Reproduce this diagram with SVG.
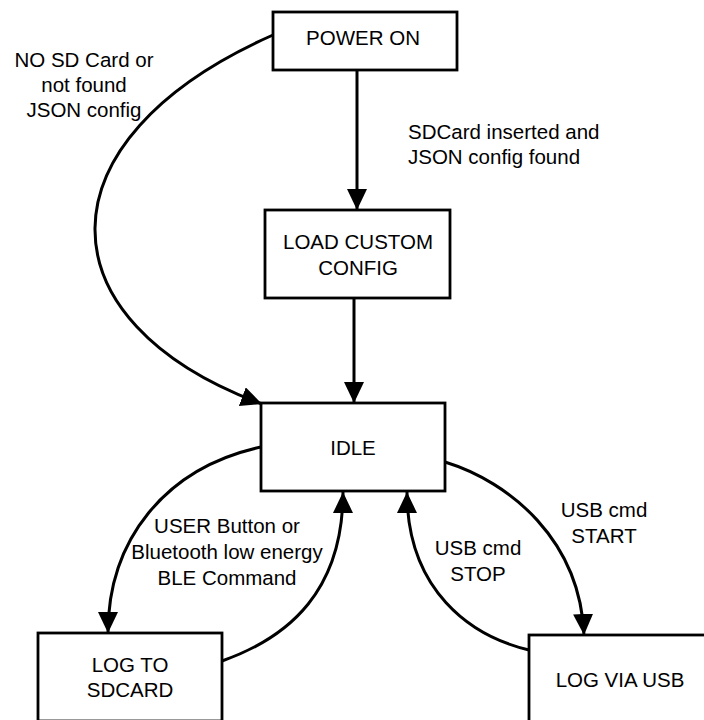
<svg xmlns="http://www.w3.org/2000/svg" width="704" height="720" viewBox="0 0 704 720">
<style>
.box{fill:#fff;stroke:#000;stroke-width:2.8}
.t{font-family:"Liberation Sans",Arial,sans-serif;font-size:20.5px;fill:#000;text-anchor:middle}
.ts{text-anchor:start}
.c{fill:none;stroke:#000;stroke-width:3}
</style>
<defs>
<marker id="ah" markerUnits="userSpaceOnUse" markerWidth="22" markerHeight="22" refX="21" refY="10" orient="auto" viewBox="0 0 22 22">
<path d="M0,0 L21,10 L0,20 z" fill="#000"/>
</marker>
</defs>
<rect width="704" height="720" fill="#fff"/>
<g id="connectors">
<path class="c" d="M273,35 C35,140 40,322 262,404" marker-end="url(#ah)"/>
<path class="c" d="M357,70 L357,210" marker-end="url(#ah)"/>
<path class="c" d="M354,298 L354,403" marker-end="url(#ah)"/>
<path class="c" d="M261,447 C165,468 108,540 108,633" marker-end="url(#ah)"/>
<path class="c" d="M222,661 C290,637 343,590 343,492" marker-end="url(#ah)"/>
<path class="c" d="M445,462 C510,482 580,540 584,635" marker-end="url(#ah)"/>
<path class="c" d="M529,650 C470,636 407,590 407,492" marker-end="url(#ah)"/>
</g>
<g id="labels">
<text class="t" x="84" y="67">NO SD Card or</text>
<text class="t" x="84" y="92">not found</text>
<text class="t" x="84" y="117">JSON config</text>
<text class="t ts" x="408" y="139">SDCard inserted and</text>
<text class="t ts" x="408" y="164">JSON config found</text>
<text class="t" x="227" y="533">USER Button or</text>
<text class="t" x="227" y="559">Bluetooth low energy</text>
<text class="t" x="227" y="585">BLE Command</text>
<text class="t" x="478" y="555">USB cmd</text>
<text class="t" x="478" y="581">STOP</text>
<text class="t" x="604" y="517">USB cmd</text>
<text class="t" x="604" y="543">START</text>
</g>
<g id="power-on">
<rect class="box" x="273" y="12" width="184" height="58"/>
<text class="t" x="363" y="45">POWER ON</text>
</g>
<g id="load-custom-config">
<rect class="box" x="265" y="210" width="185" height="88"/>
<text class="t" x="358" y="249">LOAD CUSTOM</text>
<text class="t" x="358" y="275">CONFIG</text>
</g>
<g id="idle">
<rect class="box" x="261" y="403" width="184" height="88"/>
<text class="t" x="353" y="455">IDLE</text>
</g>
<g id="log-to-sdcard">
<rect class="box" x="38" y="633" width="184" height="88"/>
<text class="t" x="130" y="672">LOG TO</text>
<text class="t" x="130" y="697">SDCARD</text>
</g>
<g id="log-via-usb">
<rect class="box" x="529" y="635" width="184" height="88"/>
<text class="t" x="620" y="687">LOG VIA USB</text>
</g>
</svg>
